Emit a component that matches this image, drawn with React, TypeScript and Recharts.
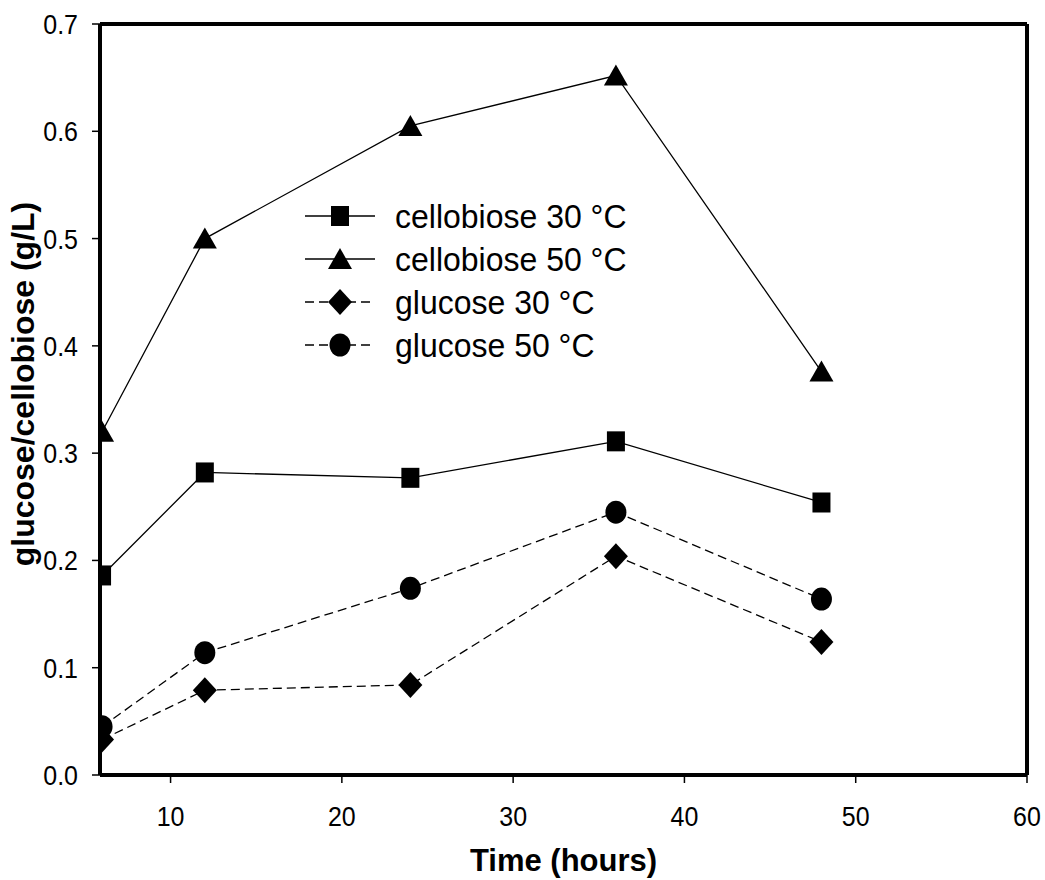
import { LineChart, Line, XAxis, YAxis, ReferenceLine, Legend } from 'recharts'

const hours = [6, 12, 24, 36, 48]
const cellobiose30 = [0.186, 0.282, 0.277, 0.311, 0.254]
const cellobiose50 = [0.32, 0.5, 0.605, 0.652, 0.376]
const glucose30 = [0.033, 0.079, 0.084, 0.204, 0.124]
const glucose50 = [0.045, 0.114, 0.174, 0.245, 0.164]

const xTicks = [10, 20, 30, 40, 50, 60]
const yTicks = [0, 0.1, 0.2, 0.3, 0.4, 0.5, 0.6, 0.7]

const SERIES = [
  { key: 'c30', name: 'cellobiose 30 °C', shape: 'square', dashed: false },
  { key: 'c50', name: 'cellobiose 50 °C', shape: 'triangle', dashed: false },
  { key: 'g30', name: 'glucose 30 °C', shape: 'diamond', dashed: true },
  { key: 'g50', name: 'glucose 50 °C', shape: 'circle', dashed: true },
]

const rows = hours.map((h, i) => ({
  hours: h,
  c30: cellobiose30[i],
  c50: cellobiose50[i],
  g30: glucose30[i],
  g50: glucose50[i],
}))

const SANS = "'Liberation Sans', Arial, sans-serif"

function Marker({ shape, cx, cy }: { shape: string; cx: number; cy: number }) {
  if (cx == null || cy == null) return null
  switch (shape) {
    case 'square':
      return <rect x={cx - 9} y={cy - 10} width={18} height={20} fill="#000" />
    case 'triangle':
      return <polygon points={`${cx},${cy - 11} ${cx - 12},${cy + 10} ${cx + 12},${cy + 10}`} fill="#000" />
    case 'diamond':
      return <polygon points={`${cx},${cy - 13} ${cx + 12},${cy} ${cx},${cy + 13} ${cx - 12},${cy}`} fill="#000" />
    default:
      return <ellipse cx={cx} cy={cy} rx={10.5} ry={11.5} fill="#000" />
  }
}

// tick text in the source is a little taller than Arial, stretch it
function XTick({ x, y, payload }: any) {
  return (
    <text transform={`translate(${x},${y}) scale(1,1.12)`} textAnchor="middle" dy="0.71em"
      fontSize={25} fontFamily={SANS} fill="#000">{payload.value}</text>
  )
}

function YTick({ x, y, payload }: any) {
  return (
    <text transform={`translate(${x},${y}) scale(1,1.12)`} textAnchor="end" dy="0.355em"
      fontSize={25} fontFamily={SANS} fill="#000">{Number(payload.value).toFixed(1)}</text>
  )
}

function LegendBox() {
  return (
    <svg width={360} height={180}>
      {SERIES.map((s, i) => {
        const y = 22 + i * 43
        return (
          <g key={s.key}>
            <line x1={0} x2={70} y1={y} y2={y} stroke="#000" strokeWidth={1.3}
              strokeDasharray={s.dashed ? '9 5' : undefined} />
            <Marker shape={s.shape} cx={35} cy={y} />
            <text transform={`translate(90,${y}) scale(1,1.05)`} dy="0.36em" fontSize={32}
              fontFamily={SANS} fill="#000">{s.name}</text>
          </g>
        )
      })}
    </svg>
  )
}

const YTitle = () => (
  <text x={23} y={384} transform="rotate(-90, 23, 384)" textAnchor="middle" dy="0.355em"
    fontSize={32} fontWeight="bold" fontFamily={SANS} fill="#000">glucose/cellobiose (g/L)</text>
)

export default function App() {
  return (
    <div style={{ position: 'absolute', left: 0, top: 0, width: 1045, height: 880, background: '#fff' }}>
      <LineChart width={1045} height={880} data={rows} margin={{ top: 24, right: 18, bottom: 0, left: 0 }}>
        <XAxis
          dataKey="hours" type="number" domain={[5.88, 60]} ticks={xTicks} allowDataOverflow
          height={105} tickSize={8} tickMargin={23}
          axisLine={{ stroke: '#000', strokeWidth: 4 }}
          tickLine={{ stroke: '#000', strokeWidth: 1.5 }}
          tick={<XTick />}
          label={{ value: 'Time (hours)', position: 'insideBottom', offset: 9, fill: '#000', fontSize: 31, fontWeight: 'bold', fontFamily: SANS }}
        />
        <YAxis
          type="number" domain={[0, 0.7]} ticks={yTicks} width={100}
          tickSize={8} tickMargin={14}
          axisLine={{ stroke: '#000', strokeWidth: 4 }}
          tickLine={{ stroke: '#000', strokeWidth: 1.5 }}
          tick={<YTick />}
          label={{ content: () => <YTitle /> }}
        />
        <ReferenceLine y={0.7} stroke="#000" strokeWidth={4} />
        <ReferenceLine x={60} stroke="#000" strokeWidth={4} />
        {SERIES.map(s => (
          <Line
            key={s.key} dataKey={s.key} name={s.name} type="linear" stroke="#000" strokeWidth={1.3}
            strokeDasharray={s.dashed ? '9 5' : undefined}
            dot={(p: any) => <Marker key={`${s.key}-${p.index}`} shape={s.shape} cx={p.cx} cy={p.cy} />}
            activeDot={false} isAnimationActive={false}
          />
        ))}
        <Legend
          layout="vertical" align="center" verticalAlign="middle"
          wrapperStyle={{ position: 'absolute', left: 305, top: 194, width: 360, height: 180 }}
          content={() => <LegendBox />}
        />
      </LineChart>
    </div>
  )
}
